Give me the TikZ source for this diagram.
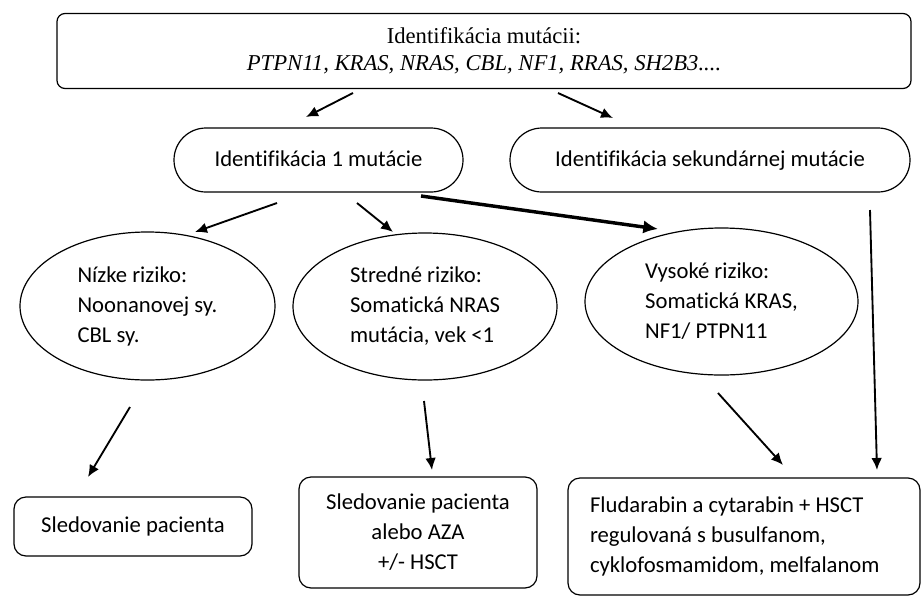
\documentclass[tikz,border=0pt]{standalone}
\usepackage{fontspec}
\setmainfont{Carlito}[Ligatures=NoCommon]
\newfontfamily\timesfont{Liberation Serif}
\usetikzlibrary{positioning,arrows.meta,shapes.geometric}
\tikzset{box node/.style={rectangle,draw,line width=0.9pt,rounded corners=9pt,inner sep=0pt,align=center,font=\fontsize{17}{22.5}\selectfont},
	oval node/.style={box node,rounded corners=24pt,text height=12pt,text depth=2pt},
	risk node/.style={ellipse,draw,line width=0.9pt,inner sep=0pt,align=left,font=\fontsize{17}{22.5}\selectfont},
	flow/.style={draw,-{Latex[length=9pt,width=8pt]},line width=1.4pt},}

\begin{document}
\begin{tikzpicture}[x=0.75pt,y=-0.75pt]
			\useasboundingbox (0,0) rectangle (921,597);

			\node[box node,rounded corners=6pt,minimum width=640.5pt,minimum height=56.25pt,font=\timesfont\fontsize{17}{20}\selectfont] (top) at (484,51)
				{Identifikácia mutácii:\\ \textit{PTPN11, KRAS, NRAS, CBL, NF1, RRAS, SH2B3....}};

			\node[oval node,minimum width=216.75pt,minimum height=48pt] (id1) at (318.5,160) {Identifikácia 1 mutácie};
			\node[oval node,minimum width=300pt,minimum height=48pt] (id2) at (710,160) {Identifikácia sekundárnej mutácie};

			\node[risk node,minimum width=191.25pt,minimum height=111pt] (low) at (147.5,306) {Nízke riziko:\\ Noonanovej sy.\\ CBL sy.};
			\node[risk node,minimum width=198pt,minimum height=110.25pt] (mid) at (425,306.5) {Stredné riziko:\\ Somatická NRAS\\ mutácia, vek <1};
			\node[risk node,minimum width=204.75pt,minimum height=110.25pt] (high) at (721.5,301.5) {Vysoké riziko:\\ Somatická KRAS,\\ NF1/ PTPN11};

			\node[box node,minimum width=178.5pt,minimum height=44.25pt] (b1) at (133,526.5) {Sledovanie pacienta};
			\node[box node,minimum width=178.5pt,minimum height=83.25pt] (b2) at (418,532.5) {Sledovanie pacienta\\ alebo AZA\\ +/- HSCT};
			\node[box node,align=flush left,inner xsep=16.5pt,text width=231pt,minimum height=87.75pt] (b3) at (744,536.5)
				{Fludarabin a cytarabin + HSCT\\ regulovaná s busulfanom,\\ cyklofosmamidom, melfalanom};

			% arrow ends
			\coordinate (t1) at (353,93);   \coordinate (t2) at (306,117);
			\coordinate (t3) at (558,93);   \coordinate (t4) at (613,118);
			\coordinate (m1) at (277,203);  \coordinate (m2) at (195,232);
			\coordinate (m3) at (357,203);  \coordinate (m4) at (393,232);
			\coordinate (m5) at (421,196);  \coordinate (m6) at (658,229);
			\coordinate (s1) at (870,210);  \coordinate (s2) at (877,470);
			\coordinate (r1) at (130,407);  \coordinate (r2) at (88,477);
			\coordinate (r3) at (424,401);  \coordinate (r4) at (432,470);
			\coordinate (r5) at (718,393);  \coordinate (r6) at (783,465);

			\path
				(t1) edge[flow] (t2)
				(t3) edge[flow] (t4)
				(m1) edge[flow] (m2)
				(m3) edge[flow] (m4)
				(s1) edge[flow] (s2)
				(r1) edge[flow] (r2)
				(r3) edge[flow] (r4)
				(r5) edge[flow] (r6);
			\draw[flow, line width=2.6pt, -{Latex[length=11pt,width=10pt]}] (m5) -- (m6);
		\end{tikzpicture}
\end{document}
